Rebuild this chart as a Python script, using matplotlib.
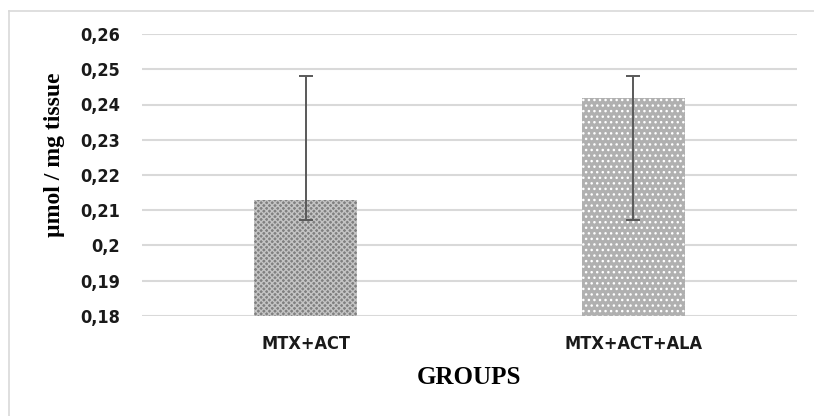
import matplotlib
matplotlib.use("Agg")
import matplotlib.pyplot as plt
from matplotlib.lines import Line2D

categories = ["MTX+ACT", "MTX+ACT+ALA"]
values = [0.2128, 0.2418]
err_low = [0.2071, 0.2071]
err_high = [0.2482, 0.2482]
yticks = [0.18, 0.19, 0.20, 0.21, 0.22, 0.23, 0.24, 0.25, 0.26]
ytick_labels = ["0,18", "0,19", "0,2", "0,21", "0,22", "0,23", "0,24", "0,25", "0,26"]

plt.rcParams["hatch.linewidth"] = 1.0
fig = plt.figure(figsize=(8.14, 4.16), dpi=100)
fx, fy = 8.5/814, 1 - 10.5/416
fig.lines.append(Line2D([fx, 1.0], [fy, fy], transform=fig.transFigure, color="#d9d9d9", linewidth=1.2))
fig.lines.append(Line2D([fx, fx], [0.0, fy], transform=fig.transFigure, color="#d9d9d9", linewidth=1.2))
ax = fig.add_axes([142/814, 1 - 316/416, 655/814, (316 - 34)/416])

x = list(range(len(categories)))
faces = ["#808080", "#b0b0b0"]
hatch_cols = ["#c4c4c4", "#ffffff"]
hatches = ["xxxxxx", "..."]
for i in x:
    ax.bar(i, values[i], width=0.314, bottom=0, color=faces[i], edgecolor=hatch_cols[i],
           hatch=hatches[i], linewidth=0, zorder=2)
    ax.errorbar(i, values[i], yerr=[[values[i] - err_low[i]], [err_high[i] - values[i]]],
                fmt="none", ecolor="#595959", elinewidth=1.4, capsize=4.8, capthick=1.4, zorder=3)

ax.set_ylim(0.18, 0.26)
ax.set_xlim(-0.5, 1.5)
ax.set_yticks(yticks)
ax.set_yticklabels(ytick_labels)
ax.set_xticks(x)
ax.set_xticklabels(categories)
ax.yaxis.grid(True, color="#d9d9d9", linewidth=1.5, zorder=0)
ax.set_axisbelow(True)
for s in ax.spines.values():
    s.set_visible(False)
ax.tick_params(axis="both", length=0)
ax.tick_params(axis="y", pad=16)
ax.tick_params(axis="x", pad=14)
for lab in ax.get_yticklabels() + ax.get_xticklabels():
    lab.set_fontfamily("DejaVu Sans")
    lab.set_fontstretch("condensed")
    lab.set_fontweight("bold")
    lab.set_fontsize(13)
    lab.set_color("#1a1a1a")

ax.set_ylabel("µmol / mg tissue", fontfamily="Liberation Serif", fontweight="bold", fontsize=17, labelpad=11)
ax.yaxis.label.set_y(0.571)
ax.set_xlabel("GROUPS", fontfamily="Liberation Serif", fontweight="bold", fontsize=18, labelpad=9)

fig.savefig("out.png", dpi=100)
